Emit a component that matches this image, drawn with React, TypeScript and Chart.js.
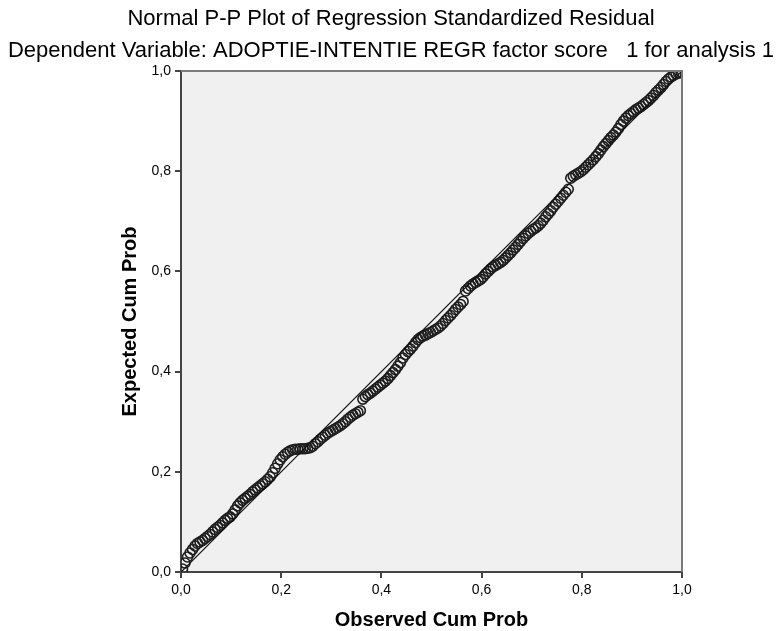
import React, { useEffect, useRef } from "react";
import { Chart, registerables } from "chart.js";

Chart.register(...registerables);

const chartTitle = "Normal P-P Plot of Regression Standardized Residual";
const chartSubtitle = "Dependent Variable: ADOPTIE-INTENTIE REGR factor score   1 for analysis 1";
const xAxisTitle = "Observed Cum Prob";
const yAxisTitle = "Expected Cum Prob";
const tickLabels = ["0,0", "0,2", "0,4", "0,6", "0,8", "1,0"];

const observedCumProb = [
  0.003, 0.008, 0.013, 0.018, 0.023, 0.028, 0.033, 0.038, 0.043, 0.048,
  0.053, 0.058, 0.063, 0.068, 0.073, 0.078, 0.083, 0.088, 0.093, 0.098,
  0.103, 0.108, 0.113, 0.118, 0.123, 0.128, 0.133, 0.138, 0.143, 0.148,
  0.153, 0.158, 0.163, 0.168, 0.173, 0.178, 0.183, 0.188, 0.193, 0.198,
  0.203, 0.208, 0.213, 0.218, 0.223, 0.228, 0.233, 0.238, 0.243, 0.248,
  0.253, 0.258, 0.263, 0.268, 0.273, 0.278, 0.283, 0.288, 0.293, 0.298,
  0.303, 0.308, 0.313, 0.318, 0.323, 0.328, 0.333, 0.338, 0.343, 0.348,
  0.353, 0.358, 0.363, 0.368, 0.373, 0.378, 0.383, 0.388, 0.393, 0.398,
  0.403, 0.408, 0.413, 0.418, 0.423, 0.428, 0.433, 0.438, 0.443, 0.448,
  0.453, 0.458, 0.463, 0.468, 0.473, 0.478, 0.483, 0.488, 0.493, 0.498,
  0.503, 0.508, 0.513, 0.518, 0.523, 0.528, 0.533, 0.538, 0.543, 0.548,
  0.553, 0.558, 0.563, 0.568, 0.573, 0.578, 0.583, 0.588, 0.593, 0.598,
  0.603, 0.608, 0.613, 0.618, 0.623, 0.628, 0.633, 0.638, 0.643, 0.648,
  0.653, 0.658, 0.663, 0.668, 0.673, 0.678, 0.683, 0.688, 0.693, 0.698,
  0.703, 0.708, 0.713, 0.718, 0.723, 0.728, 0.733, 0.738, 0.743, 0.748,
  0.753, 0.758, 0.763, 0.768, 0.773, 0.778, 0.783, 0.788, 0.793, 0.798,
  0.803, 0.808, 0.813, 0.818, 0.823, 0.828, 0.833, 0.838, 0.843, 0.848,
  0.853, 0.858, 0.863, 0.868, 0.873, 0.878, 0.883, 0.888, 0.893, 0.898,
  0.903, 0.908, 0.913, 0.918, 0.923, 0.928, 0.933, 0.938, 0.943, 0.948,
  0.953, 0.958, 0.963, 0.968, 0.973, 0.978, 0.983, 0.988, 0.993, 0.998,
];

const expectedCumProb = [
  0.006, 0.018, 0.030, 0.038, 0.045, 0.052, 0.057, 0.060, 0.063, 0.067,
  0.071, 0.075, 0.080, 0.085, 0.089, 0.093, 0.098, 0.103, 0.107, 0.110,
  0.116, 0.124, 0.132, 0.138, 0.143, 0.147, 0.151, 0.155, 0.160, 0.164,
  0.168, 0.172, 0.176, 0.180, 0.185, 0.190, 0.198, 0.207, 0.216, 0.224,
  0.230, 0.235, 0.239, 0.242, 0.244, 0.245, 0.245, 0.246, 0.246, 0.246,
  0.247, 0.248, 0.251, 0.256, 0.260, 0.265, 0.269, 0.273, 0.277, 0.280,
  0.283, 0.286, 0.289, 0.292, 0.296, 0.300, 0.305, 0.309, 0.313, 0.316,
  0.319, 0.322, 0.345, 0.350, 0.354, 0.357, 0.361, 0.365, 0.369, 0.373,
  0.377, 0.381, 0.386, 0.392, 0.398, 0.404, 0.411, 0.418, 0.427, 0.434,
  0.440, 0.445, 0.451, 0.458, 0.464, 0.468, 0.471, 0.473, 0.476, 0.478,
  0.481, 0.484, 0.487, 0.491, 0.496, 0.502, 0.507, 0.512, 0.518, 0.524,
  0.529, 0.534, 0.540, 0.561, 0.566, 0.571, 0.575, 0.578, 0.581, 0.584,
  0.589, 0.595, 0.600, 0.605, 0.609, 0.612, 0.615, 0.618, 0.622, 0.627,
  0.632, 0.637, 0.643, 0.648, 0.654, 0.660, 0.666, 0.671, 0.676, 0.680,
  0.684, 0.687, 0.691, 0.696, 0.702, 0.709, 0.715, 0.721, 0.728, 0.734,
  0.740, 0.746, 0.752, 0.758, 0.764, 0.786, 0.790, 0.793, 0.796, 0.799,
  0.803, 0.808, 0.813, 0.818, 0.823, 0.829, 0.835, 0.842, 0.849, 0.855,
  0.861, 0.867, 0.872, 0.878, 0.885, 0.893, 0.900, 0.906, 0.911, 0.915,
  0.919, 0.923, 0.926, 0.929, 0.933, 0.937, 0.941, 0.946, 0.951, 0.957,
  0.962, 0.967, 0.973, 0.979, 0.984, 0.988, 0.991, 0.994, 0.996, 0.998,
];

const referenceLine = [0, 1];

const FONT = "'Liberation Sans', Arial, sans-serif";

const decorPlugin = {
  id: "spssDecor",
  beforeDraw(chart: any) {
    const { ctx, chartArea } = chart;
    ctx.save();
    ctx.fillStyle = "#ffffff";
    ctx.fillRect(0, 0, chart.width, chart.height);
    ctx.fillStyle = "#f0f0f0";
    ctx.fillRect(chartArea.left, chartArea.top, chartArea.right - chartArea.left, chartArea.bottom - chartArea.top);
    ctx.restore();
  },
  afterDraw(chart: any) {
    const { ctx, chartArea } = chart;
    ctx.save();
    ctx.strokeStyle = "#7a7a7a";
    ctx.lineWidth = 2;
    ctx.beginPath();
    ctx.moveTo(chartArea.left, chartArea.top);
    ctx.lineTo(chartArea.right, chartArea.top);
    ctx.lineTo(chartArea.right, chartArea.bottom);
    ctx.stroke();
    ctx.fillStyle = "#000";
    ctx.textAlign = "center";
    ctx.textBaseline = "middle";
    ctx.font = `22px ${FONT}`;
    ctx.fillText(chartTitle, 391, 19);
    ctx.fillText(chartSubtitle, 391, 51);
    ctx.font = `bold 20px ${FONT}`;
    const cx = (chartArea.left + chartArea.right) / 2;
    const cy = (chartArea.top + chartArea.bottom) / 2;
    ctx.fillText(xAxisTitle, cx, 620);
    ctx.translate(130, cy);
    ctx.rotate(-Math.PI / 2);
    ctx.fillText(yAxisTitle, 0, 0);
    ctx.restore();
  },
};

export default function App() {
  const canvasRef = useRef<HTMLCanvasElement | null>(null);

  useEffect(() => {
    if (!canvasRef.current) return;
    const points = observedCumProb.map((x, i) => ({ x, y: expectedCumProb[i] }));
    const line = referenceLine.map((v) => ({ x: v, y: v }));
    const axisCommon = {
      type: "linear" as const,
      min: 0,
      max: 1,
      grid: {
        display: true,
        drawOnChartArea: false,
        drawTicks: true,
        tickLength: 6,
        color: "#444444",
        lineWidth: 2,
      },
      border: { display: true, color: "#444444", width: 2 },
      ticks: {
        stepSize: 0.2,
        color: "#000",
        padding: 4,
        font: { family: FONT, size: 14 },
        callback: (_v: any, idx: number) => tickLabels[idx],
      },
    };
    const chart = new Chart(canvasRef.current, {
      type: "scatter",
      data: {
        datasets: [
          {
            type: "line",
            data: line,
            borderColor: "#111111",
            borderWidth: 1.2,
            pointRadius: 0,
            fill: false,
          } as any,
          {
            type: "scatter",
            data: points,
            pointStyle: "circle",
            pointRadius: 5,
            borderColor: "#1e1e1e",
            borderWidth: 1.6,
            backgroundColor: "rgba(0,0,0,0)",
          },
        ],
      },
      options: {
        animation: false,
        responsive: false,
        layout: { padding: { left: 0, right: 100, top: 71, bottom: 0 } },
        plugins: {
          legend: { display: false },
          tooltip: { enabled: false },
          title: { display: false },
        },
        scales: {
          x: {
            ...axisCommon,
            position: "bottom",
            afterFit: (s: any) => {
              s.height = 59;
            },
          },
          y: {
            ...axisCommon,
            position: "left",
            afterFit: (s: any) => {
              s.width = 181;
            },
          },
        },
      } as any,
      plugins: [decorPlugin],
    });
    return () => chart.destroy();
  }, []);

  return (
    <div style={{ position: "fixed", left: 0, top: 0, width: 782, height: 631, background: "#fff" }}>
      <canvas ref={canvasRef} width={782} height={631} />
    </div>
  );
}
